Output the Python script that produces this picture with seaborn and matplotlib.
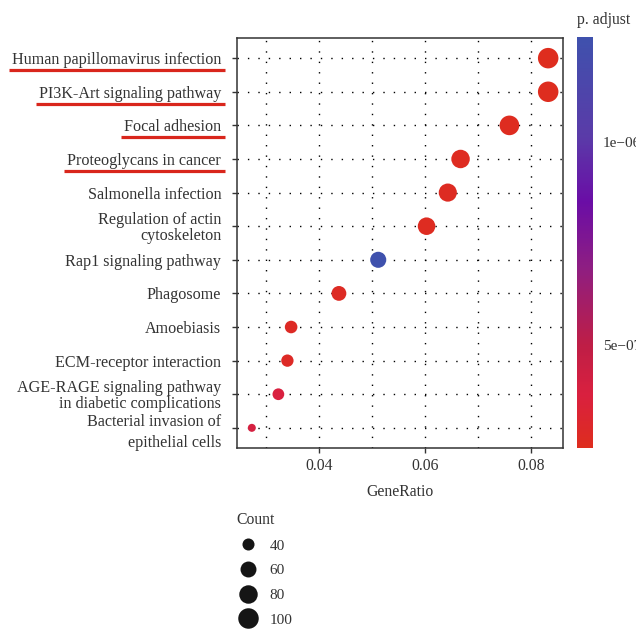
import numpy as np
import pandas as pd
import matplotlib
matplotlib.use("Agg")
import matplotlib.pyplot as plt
import seaborn as sns
from matplotlib.colors import LinearSegmentedColormap, Normalize
from matplotlib.lines import Line2D
from matplotlib.ticker import MultipleLocator, FuncFormatter
import matplotlib.cm as cm

# ---------------- data ----------------
descriptions = [
    "Human papillomavirus infection",
    "PI3K-Art signaling pathway",
    "Focal adhesion",
    "Proteoglycans in cancer",
    "Salmonella infection",
    "Regulation of actin\ncytoskeleton",
    "Rap1 signaling pathway",
    "Phagosome",
    "Amoebiasis",
    "ECM-receptor interaction",
    "AGE-RAGE signaling pathway\nin diabetic complications",
    "Bacterial invasion of\nepithelial cells",
]
gene_ratio = [0.0832, 0.0832, 0.0759, 0.0667, 0.0643, 0.0603,
              0.0512, 0.0438, 0.0348, 0.0341, 0.0324, 0.0274]
counts = [100, 100, 91, 80, 77, 72, 61, 53, 42, 41, 39, 33]
p_adjust = [2.46e-7, 2.50e-7, 2.55e-7, 2.60e-7, 2.62e-7, 2.58e-7,
            1.26e-6, 2.70e-7, 2.75e-7, 2.80e-7, 3.80e-7, 4.00e-7]
underlined = ["Human papillomavirus infection", "PI3K-Art signaling pathway",
              "Focal adhesion", "Proteoglycans in cancer"]
legend_counts = [40, 60, 80, 100]
cbar_ticks = [5e-7, 1e-6]

# ---------------- style ----------------
sns.set_theme(style="white")
plt.rcParams["font.family"] = ["Liberation Serif", "DejaVu Serif"]
plt.rcParams["axes.unicode_minus"] = True
TXT = "#333333"

df = pd.DataFrame({"Description": descriptions, "GeneRatio": gene_ratio,
                   "Count": counts, "p.adjust": p_adjust})

W, H = 636, 633
fig = plt.figure(figsize=(W / 100, H / 100), dpi=100)
ax = fig.add_axes([237 / W, 1 - 448 / H, 326 / W, 410 / H])

cmap = LinearSegmentedColormap.from_list("padj", [
    (0.00, "#DE2D1E"),
    (0.13, "#D9203F"),
    (0.25, "#BE1E46"),
    (0.44, "#8E1E82"),
    (0.60, "#6A0DA6"),
    (0.76, "#5A3BA8"),
    (1.00, "#3F51AD"),
])
norm = Normalize(vmin=min(p_adjust), vmax=max(p_adjust))

cmin, cmax = min(counts), max(counts)
DMIN, DMAX = 8.0, 20.5  # diameter range in px


def diam_pt(c):
    frac = np.clip((c - cmin) / (cmax - cmin), 0, 1)
    return (DMIN + (DMAX - DMIN) * np.sqrt(frac)) * 0.72


size_map = {c: diam_pt(c) ** 2 for c in sorted(set(counts))}

sns.scatterplot(data=df, x="GeneRatio", y="Description", hue="p.adjust",
                palette=cmap, hue_norm=norm, size="Count", sizes=size_map,
                linewidth=0, legend=False, ax=ax, zorder=3)

# axis limits (ggplot-like expansion)
rng = max(gene_ratio) - min(gene_ratio)
ax.set_xlim(min(gene_ratio) - 0.05 * rng, max(gene_ratio) + 0.05 * rng)
ax.set_ylim(len(descriptions) - 1 + 0.6, -0.6)

ax.xaxis.set_major_locator(MultipleLocator(0.02))
ax.xaxis.set_minor_locator(MultipleLocator(0.01))
ax.xaxis.set_major_formatter(FuncFormatter(lambda v, p: f"{v:.2f}"))

dot = (0, (1, 6.5))
ax.grid(True, which="both", axis="x", color="black", linestyle=dot, linewidth=1)
ax.grid(True, which="major", axis="y", color="black", linestyle=dot, linewidth=1)
ax.set_axisbelow(True)

for s in ax.spines.values():
    s.set_color("#333333")
    s.set_linewidth(1.1)

ax.tick_params(axis="both", which="major", direction="out", length=3.6,
               width=1, color="#333333", labelcolor=TXT,
               left=True, bottom=True)
ax.tick_params(axis="y", which="major", pad=7.8, labelsize=11.6)
ax.tick_params(axis="x", which="major", pad=3.5, labelsize=11.3)
ax.tick_params(which="minor", length=0)
ax.set_xlabel("GeneRatio", fontsize=11.3, color=TXT, labelpad=7)
ax.set_ylabel("")

for lab in ax.get_yticklabels():
    lab.set_linespacing(1.0)
ax.get_yticklabels()[-1].set_linespacing(1.45)

# ---------------- size legend ----------------
handles = [Line2D([0], [0], marker="o", linestyle="", markerfacecolor="#151515",
                  markeredgewidth=0, markersize=diam_pt(c)) for c in legend_counts]
leg = fig.legend(handles, [str(c) for c in legend_counts], title="Count",
                 loc="upper left", bbox_to_anchor=(236 / W, 1 - 512 / H),
                 frameon=False, fontsize=11, title_fontsize=11.3,
                 handlelength=1.55, handletextpad=0.65, labelspacing=0.72,
                 borderpad=0, borderaxespad=0, alignment="left")
for t in leg.get_texts():
    t.set_color(TXT)
leg.get_title().set_color(TXT)

# ---------------- colorbar ----------------
cax = fig.add_axes([577 / W, 1 - 448 / H, 16 / W, 411 / H])
cb = fig.colorbar(cm.ScalarMappable(norm=norm, cmap=cmap), cax=cax)
cb.outline.set_visible(False)
cb.set_ticks(cbar_ticks)
cb.set_ticklabels([f"{v:.0e}".replace("-", "\u2212") for v in cbar_ticks])
cax.tick_params(axis="y", direction="in", length=4, width=1.2, color="white",
                left=True, right=True, labelsize=11, labelcolor=TXT, pad=7)
cax.set_title("p. adjust", loc="left", fontsize=11.3, color=TXT, pad=9)

# ---------------- red underlines ----------------
fig.canvas.draw()
inv = fig.transFigure.inverted()
for lab in ax.get_yticklabels():
    if lab.get_text() in underlined:
        bb = lab.get_window_extent()
        y = bb.y0 - 2.0
        (x0, y0), (x1, _) = inv.transform([(bb.x0 - 3, y), (bb.x1 + 4, y)])
        fig.add_artist(Line2D([x0, x1], [y0, y0], transform=fig.transFigure,
                              color="#D9261C", linewidth=2.3,
                              solid_capstyle="butt"))

fig.savefig("out.png", dpi=100)
